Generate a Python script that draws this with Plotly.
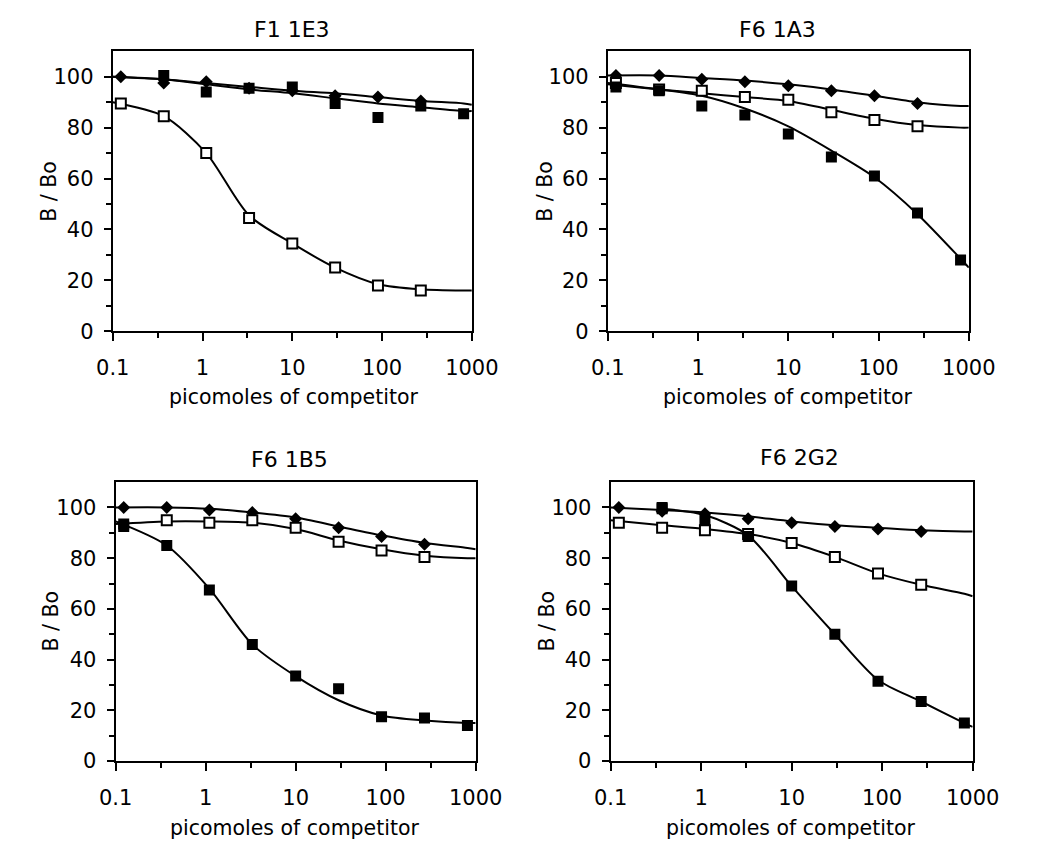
import plotly.graph_objects as go

W, H = 1037, 849

# ---------------- data ----------------
conc = [0.123, 0.37, 1.1, 3.3, 10, 30, 90, 270, 810]
fit_x = [0.1, 0.37, 1.1, 3.3, 10, 30, 90, 270, 810, 1000]

titles = ["F1 1E3", "F6 1A3", "F6 1B5", "F6 2G2"]

# diamonds (filled diamond), open squares, filled squares
diamond_pts = [
    [100, 97.5, 98, 95.5, 94.5, 92.5, 92, 90.5, None],
    [100.5, 100.5, 99, 98, 96.5, 94.5, 92.5, 89.5, None],
    [100, 100, 99, 98, 95.5, 92, 88.5, 85.5, None],
    [100, 98.5, 97.5, 95.5, 94, 92.5, 91.5, 90.5, None],
]
open_pts = [
    [89.5, 84.5, 70, 44.5, 34.5, 25, 18, 16, None],
    [97.5, 95, 94.5, 92, 91, 86, 83, 80.5, None],
    [None, 95, 94, 95, 92, 86.5, 83, 80.5, None],
    [94, 92, 91, 89.5, 86, 80.5, 74, 69.5, None],
]
filled_pts = [
    [None, 100.5, 94, 95.5, 96, 89.5, 84, 88.5, 85.5],
    [96, 94.5, 88.5, 85, 77.5, 68.5, 61, 46.5, 28],
    [93.5, 85, 67.5, 46, 33.5, 28.5, 17.5, 17, 14],
    [None, 100, 95, 88.5, 69, 50, 31.5, 23.5, 15],
]
# second (overlapping) replicate marks visible in the picture
extra_filled_x = [[], [], [0.123], [0.37]]
extra_filled_y = [[], [], [92.5], [99.5]]

# fitted curves at fit_x
diamond_fit = [
    [100, 99, 97.5, 96, 94.5, 93.5, 92, 90.5, 89.5, 89],
    [100.5, 100.5, 99.5, 98.5, 97, 95, 92.5, 90, 88.5, 88.5],
    [100, 100, 99.5, 98, 96, 92.5, 89, 86, 84, 83.5],
    [100, 99, 98, 96.5, 94.5, 93, 92, 91, 90.5, 90.5],
]
open_fit = [
    [90, 84.5, 70, 45.5, 34.5, 25, 18.5, 16.5, 16, 16],
    [97, 95, 93.5, 92, 90.5, 87, 83.5, 81, 80, 80],
    [93.5, 94.5, 94.5, 94, 91.5, 87, 83.5, 81, 80, 80],
    [95, 93, 91.5, 89.5, 86, 80.5, 74, 69.5, 66, 65],
]
filled_fit = [
    [100, 99, 97, 95, 93.5, 91.5, 89.5, 88, 86.5, 86.5],
    [97.5, 95, 92.5, 87.5, 80.5, 71, 60.5, 46, 28.5, 25],
    [94.5, 85, 68, 46, 33.5, 24, 18, 16, 15, 15],
    [None, 99.5, 97, 89, 69, 50, 32, 23.5, 15, 13.5],
]

x_tickvals = [0.1, 1, 10, 100, 1000]
x_ticktext = ["0.1", "1", "10", "100", "1000"]
x_minor = [0.316, 3.16, 31.6, 316]
y_tickvals = [0, 20, 40, 60, 80, 100]
y_minor = [10, 30, 50, 70, 90]

# ---------------- layout geometry (pixels) ----------------
# (left, right, top, bottom) of each plot area
boxes = [(100, 475, 52, 336), (617, 994, 52, 336),
         (103, 479, 489, 772), (620, 998, 489, 772)]
title_pos = [(287, 30), (794, 30), (285, 466), (817, 464)]
xtitle_pos = [(289, 403), (805, 403), (290, 840), (808, 840)]
ytitle_pos = [(34, 194), (552, 194), (36, 630), (554, 630)]

FONT = "DejaVu Sans"
TICK_SIZE = 21

fig = go.Figure()
annotations = []

for i in range(4):
    ax = "" if i == 0 else str(i + 1)
    xref, yref = "x" + ax, "y" + ax
    l, r, t, b = boxes[i]

    # curves
    for fy in (diamond_fit[i], open_fit[i], filled_fit[i]):
        fig.add_trace(go.Scatter(
            x=fit_x, y=fy, mode="lines", xaxis=xref, yaxis=yref,
            line=dict(color="black", width=2, shape="spline", smoothing=0.8),
            showlegend=False, hoverinfo="skip"))
    # markers
    fig.add_trace(go.Scatter(
        x=conc, y=diamond_pts[i], mode="markers", xaxis=xref, yaxis=yref,
        marker=dict(symbol="diamond", size=10, color="black"), showlegend=False))
    fig.add_trace(go.Scatter(
        x=conc, y=open_pts[i], mode="markers", xaxis=xref, yaxis=yref,
        marker=dict(symbol="square", size=10, color="white",
                    line=dict(color="black", width=2)), showlegend=False))
    fig.add_trace(go.Scatter(
        x=conc + extra_filled_x[i], y=filled_pts[i] + extra_filled_y[i],
        mode="markers", xaxis=xref, yaxis=yref,
        marker=dict(symbol="square", size=11, color="black"), showlegend=False))

    xa = dict(
        domain=[l / W, r / W], anchor=yref, type="log", range=[-1, 3],
        tickmode="array", tickvals=x_tickvals, ticktext=x_ticktext,
        ticks="outside", ticklen=8, tickwidth=2, tickcolor="black",
        ticklabelstandoff=9,
        minor=dict(tickmode="array", tickvals=x_minor, ticks="outside",
                   ticklen=5, tickwidth=2, tickcolor="black", showgrid=False),
        showline=True, linecolor="black", linewidth=2, mirror=True,
        showgrid=False, zeroline=False,
        tickfont=dict(family=FONT, size=TICK_SIZE, color="black"),
    )
    ya = dict(
        domain=[1 - b / H, 1 - t / H], anchor=xref, range=[0, 110],
        tickmode="array", tickvals=y_tickvals,
        ticks="outside", ticklen=7, tickwidth=2, tickcolor="black",
        ticklabelstandoff=6,
        minor=dict(tickmode="array", tickvals=y_minor, ticks="outside",
                   ticklen=5, tickwidth=2, tickcolor="black", showgrid=False),
        showline=True, linecolor="black", linewidth=2, mirror=True,
        showgrid=False, zeroline=False,
        tickfont=dict(family=FONT, size=TICK_SIZE, color="black"),
    )
    fig.layout["xaxis" + ax] = xa
    fig.layout["yaxis" + ax] = ya

    tx, ty = title_pos[i]
    annotations.append(dict(text=titles[i], x=tx / W, y=1 - ty / H,
                            xref="paper", yref="paper", showarrow=False,
                            xanchor="center", yanchor="middle",
                            font=dict(family=FONT, size=22, color="black")))
    tx, ty = xtitle_pos[i]
    annotations.append(dict(text="picomoles of competitor", x=tx / W, y=1 - ty / H,
                            xref="paper", yref="paper", showarrow=False,
                            xanchor="center", yanchor="middle",
                            font=dict(family=FONT, size=20.5, color="black")))
    tx, ty = ytitle_pos[i]
    annotations.append(dict(text="B / Bo", x=tx / W, y=1 - ty / H,
                            xref="paper", yref="paper", showarrow=False,
                            xanchor="center", yanchor="middle", textangle=-90,
                            font=dict(family=FONT, size=20.5, color="black")))

fig.update_layout(
    width=W, height=H, margin=dict(l=0, r=0, t=0, b=0),
    paper_bgcolor="white", plot_bgcolor="white",
    annotations=annotations, showlegend=False,
)

fig.write_html("out.html")
